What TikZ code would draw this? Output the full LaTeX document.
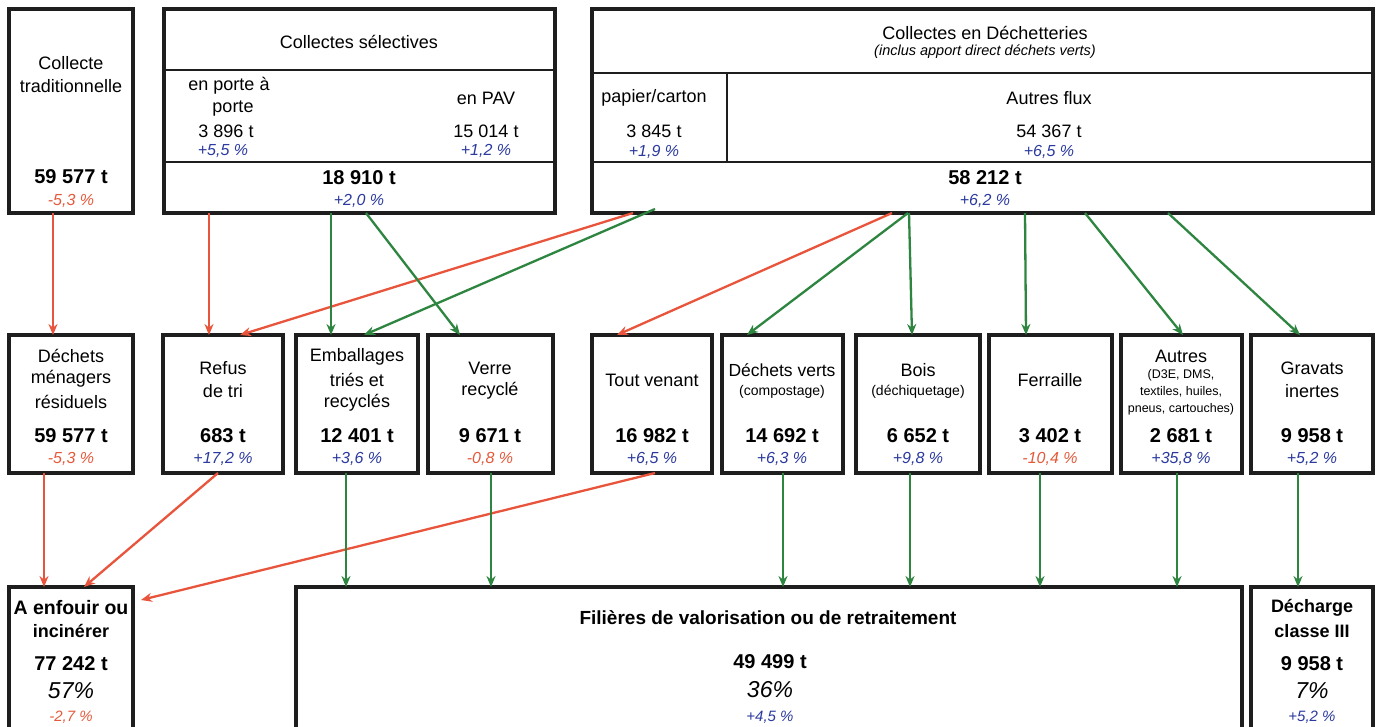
\documentclass[tikz,border=0pt]{standalone}
\usepackage{fontspec}
\setmainfont{Liberation Sans}
\usetikzlibrary{arrows.meta}
\definecolor{boxc}{HTML}{1E1E1E}
\definecolor{rarr}{HTML}{E8553C}
\definecolor{garr}{HTML}{2E8540}
\definecolor{pblue}{HTML}{2B3A9E}
\definecolor{pred}{HTML}{E45A3C}
\begin{document}
\begin{tikzpicture}[x=1pt,y=-1pt,
 box/.style={draw=boxc,line width=4pt,inner sep=0pt,outer sep=0pt},
 tx/.style={inner sep=0pt,font=\fontsize{18}{21}\selectfont,text=black},
 tb/.style={inner sep=0pt,font=\bfseries\fontsize{18}{21}\selectfont,text=black},
 sm/.style={inner sep=0pt,font=\fontsize{14}{17}\selectfont,text=black},
 xs/.style={inner sep=0pt,font=\fontsize{12.5}{15}\selectfont,text=black},
 num/.style={inner sep=0pt,font=\bfseries\fontsize{20}{24}\selectfont,text=black},
 big/.style={inner sep=0pt,font=\itshape\fontsize{23}{26}\selectfont,text=black},
 pb/.style={inner sep=0pt,font=\itshape\fontsize{16}{19}\selectfont,text=pblue},
 pr/.style={inner sep=0pt,font=\itshape\fontsize{16}{19}\selectfont,text=pred},
 ra/.style={draw=rarr,line width=2.3pt,-{Stealth[length=11pt,width=9pt]}},
 ga/.style={draw=garr,line width=2.3pt,-{Stealth[length=11pt,width=9pt]}},
 sep/.style={draw=boxc,line width=1.6pt}]
\useasboundingbox (0,0) rectangle (1383,726);
\fill[white] (0,0) rectangle (1383,726);

% ---------- top row ----------
\node[box,minimum width=124pt,minimum height=204pt] (A) at (71,111) {};
\node[box,minimum width=391pt,minimum height=204pt] (B) at (359.5,111) {};
\node[box,minimum width=781pt,minimum height=204pt] (C) at (982.5,111) {};
\draw[sep] (B.west |- 0,70) -- (B.east |- 0,70);
\draw[sep] (B.west |- 0,162) -- (B.east |- 0,162);
\draw[sep] (C.west |- 0,73) -- (C.east |- 0,73);
\draw[sep] (C.west |- 0,162) -- (C.east |- 0,162);
\draw[sep] (727,73) -- (727,162);

\node[tx] (a1) at (71,63) {Collecte};
\node[tx] (a2) at (71,86) {traditionnelle};
\node[num] (a3) at (71,177) {59 577 t};
\node[pr] (a4) at (71,201) {-5,3 \%};

\node[tx] (b0) at (359,42) {Collectes sélectives};
\node[tx] (b1) at (229,86) {en porte à};
\node[tx] (b2) at (233,109) {porte};
\node[tx] (b3) at (226,131) {3 896 t};
\node[pb] (b4) at (223,151) {+5,5 \%};
\node[tx] (b5) at (486,98) {en PAV};
\node[tx] (b6) at (486,131) {15 014 t};
\node[pb] (b7) at (486,151) {+1,2 \%};
\node[num] (b8) at (359,178) {18 910 t};
\node[pb] (b9) at (359,201) {+2,0 \%};

\node[tx] (c0) at (985,33) {Collectes en Déchetteries};
\node[sm,font=\itshape\fontsize{14.5}{17}\selectfont] (c1) at (985,52) {(inclus apport direct déchets verts)};
\node[tx] (c2) at (654,98) {papier/carton};
\node[tx] (c3) at (654,131) {3 845 t};
\node[pb] (c4) at (654,152) {+1,9 \%};
\node[tx] (c5) at (1049,98) {Autres flux};
\node[tx] (c6) at (1049,131) {54 367 t};
\node[pb] (c7) at (1049,152) {+6,5 \%};
\node[num] (c8) at (985,178) {58 212 t};
\node[pb] (c9) at (985,201) {+6,2 \%};

% ---------- middle row ----------
\node[box,minimum width=124pt,minimum height=138pt] (DMR) at (71,404) {};
\node[box,minimum width=120pt,minimum height=138pt] (REF) at (223,404) {};
\node[box,minimum width=122pt,minimum height=138pt] (EMB) at (357,404) {};
\node[box,minimum width=125pt,minimum height=138pt] (VER) at (490.5,404) {};
\node[box,minimum width=120pt,minimum height=138pt] (TV) at (652,404) {};
\node[box,minimum width=121pt,minimum height=138pt] (DV) at (782.5,404) {};
\node[box,minimum width=124pt,minimum height=138pt] (BOI) at (918,404) {};
\node[box,minimum width=123pt,minimum height=138pt] (FER) at (1050.5,404) {};
\node[box,minimum width=121pt,minimum height=138pt] (AUT) at (1181.5,404) {};
\node[box,minimum width=122pt,minimum height=138pt] (GRA) at (1312,404) {};

\node[tx] (d1) at (71,356) {Déchets};
\node[tx] (d2) at (71,379) {ménagers};
\node[tx] (d3) at (71,402) {résiduels};
\node[num] (d4) at (71,436) {59 577 t};
\node[pr] (d5) at (71,459) {-5,3 \%};

\node[tx] (e1) at (223,368) {Refus};
\node[tx] (e2) at (223,391) {de tri};
\node[num] (e3) at (223,436) {683 t};
\node[pb] (e4) at (223,459) {+17,2 \%};

\node[tx] (f1) at (357,357) {Emballages};
\node[tx] (f2) at (357,380) {triés et};
\node[tx] (f3) at (357,403) {recyclés};
\node[num] (f4) at (357,436) {12 401 t};
\node[pb] (f5) at (357,459) {+3,6 \%};

\node[tx] (g1) at (490,368) {Verre};
\node[tx] (g2) at (490,391) {recyclé};
\node[num] (g3) at (490,436) {9 671 t};
\node[pr] (g4) at (490,459) {-0,8 \%};

\node[tx] (h1) at (652,380) {Tout venant};
\node[num] (h2) at (652,436) {16 982 t};
\node[pb] (h3) at (652,459) {+6,5 \%};

\node[tx,font=\fontsize{17.5}{20}\selectfont] (i1) at (782,370) {Déchets verts};
\node[sm] (i2) at (782,392) {(compostage)};
\node[num] (i3) at (782,436) {14 692 t};
\node[pb] (i4) at (782,459) {+6,3 \%};

\node[tx] (j1) at (918,370) {Bois};
\node[sm] (j2) at (918,392) {(déchiquetage)};
\node[num] (j3) at (918,436) {6 652 t};
\node[pb] (j4) at (918,459) {+9,8 \%};

\node[tx] (k1) at (1050,380) {Ferraille};
\node[num] (k2) at (1050,436) {3 402 t};
\node[pr] (k3) at (1050,459) {-10,4 \%};

\node[tx] (l1) at (1181,356) {Autres};
\node[xs] (l2) at (1181,375) {(D3E, DMS,};
\node[xs] (l3) at (1181,392) {textiles, huiles,};
\node[xs] (l4) at (1181,409) {pneus, cartouches)};
\node[num] (l5) at (1181,436) {2 681 t};
\node[pb] (l6) at (1181,459) {+35,8 \%};

\node[tx] (m1) at (1312,368) {Gravats};
\node[tx] (m2) at (1312,391) {inertes};
\node[num] (m3) at (1312,436) {9 958 t};
\node[pb] (m4) at (1312,459) {+5,2 \%};

% ---------- bottom row ----------
\node[box,minimum width=124pt,minimum height=153pt] (AE) at (71,663.5) {};
\node[box,minimum width=946pt,minimum height=153pt] (FIL) at (769,663.5) {};
\node[box,minimum width=122pt,minimum height=153pt] (DEC) at (1312,663.5) {};

\node[tb,font=\bfseries\fontsize{19.5}{22}\selectfont] (n1) at (71,608) {A enfouir ou};
\node[tb] (n2) at (71,631) {incinérer};
\node[num] (n3) at (71,664) {77 242 t};
\node[big] (n4) at (71,691) {57\%};
\node[pr,font=\itshape\fontsize{15}{18}\selectfont] (n5) at (71,717) {-2,7 \%};

\node[tb,font=\bfseries\fontsize{19}{22}\selectfont] (o1) at (768,618) {Filières de valorisation ou de retraitement};
\node[num] (o2) at (770,662) {49 499 t};
\node[big] (o3) at (770,690) {36\%};
\node[pb,font=\itshape\fontsize{15}{18}\selectfont] (o4) at (770,717) {+4,5 \%};

\node[tb] (q1) at (1312,608) {Décharge};
\node[tb] (q2) at (1312,631) {classe III};
\node[num] (q3) at (1312,664) {9 958 t};
\node[big] (q4) at (1312,691) {7\%};
\node[pb,font=\itshape\fontsize{15}{18}\selectfont] (q5) at (1312,717) {+5,2 \%};

% ---------- red arrows ----------
\draw[ra] (A.south -| 53,0) -- (DMR.north -| 53,0);
\draw[ra] (B.south -| 209,0) -- (REF.north -| 209,0);
\draw[ra] (C.south -| 633,0) -- (REF.north -| 240,0);
\draw[ra] (C.south -| 892,0) -- (TV.north -| 617,0);
\draw[ra] (DMR.south -| 44,0) -- (AE.north -| 44,0);
\draw[ra] (REF.south -| 218,0) -- (AE.north -| 84,0);
\draw[ra] (TV.south -| 655,0) -- (141,600);

% ---------- green arrows ----------
\draw[ga] (B.south -| 331,0) -- (EMB.north -| 331,0);
\draw[ga] (B.south -| 366,0) -- (VER.north -| 460,0);
\draw[ga] (655,209) -- (EMB.north -| 364,0);
\draw[ga] (C.south -| 908,0) -- (DV.north -| 747,0);
\draw[ga] (C.south -| 909,0) -- (BOI.north -| 912,0);
\draw[ga] (C.south -| 1025,0) -- (FER.north -| 1026,0);
\draw[ga] (C.south -| 1085,0) -- (AUT.north -| 1183,0);
\draw[ga] (C.south -| 1168,0) -- (GRA.north -| 1300,0);
\draw[ga] (EMB.south -| 346,0) -- (FIL.north -| 346,0);
\draw[ga] (VER.south -| 491,0) -- (FIL.north -| 491,0);
\draw[ga] (DV.south -| 783,0) -- (FIL.north -| 783,0);
\draw[ga] (BOI.south -| 910,0) -- (FIL.north -| 910,0);
\draw[ga] (FER.south -| 1040,0) -- (FIL.north -| 1040,0);
\draw[ga] (AUT.south -| 1177,0) -- (FIL.north -| 1177,0);
\draw[ga] (GRA.south -| 1298,0) -- (DEC.north -| 1298,0);
\end{tikzpicture}
\end{document}
